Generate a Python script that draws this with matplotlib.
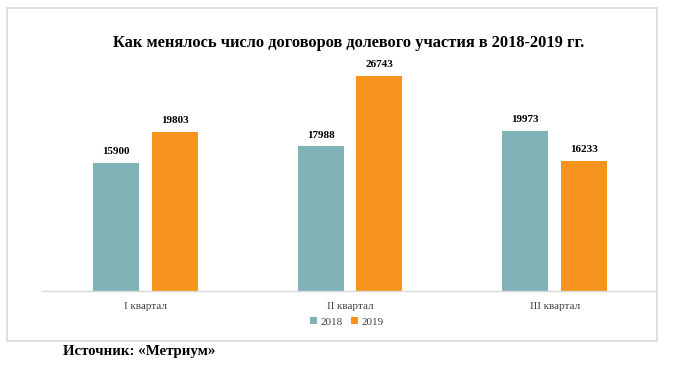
import matplotlib
matplotlib.use("Agg")
import matplotlib.pyplot as plt
import numpy as np
from matplotlib.patches import Rectangle

categories = ["I квартал", "II квартал", "III квартал"]
series_names = ["2018", "2019"]
values_2018 = [15900, 17988, 19973]
values_2019 = [19803, 26743, 16233]
colors = ["#7FB3B8", "#F7941D"]

plt.rcParams['font.family'] = ['Liberation Serif', 'DejaVu Serif']

W, H = 692, 365
fig = plt.figure(figsize=(W/100, H/100), dpi=100)

# outer frame
fig.patches.append(Rectangle((7/W, 1-341/H), (657-7)/W, (341-8)/H,
                             transform=fig.transFigure, fill=False,
                             edgecolor="#D9D9D9", linewidth=1.2))

ax = fig.add_axes([43/W, 1-291/H, (657-43)/W, (291-50)/H])
x = np.arange(len(categories))
bw = 0.225
off = 0.144
b1 = ax.bar(x - off, values_2018, bw, color=colors[0], label=series_names[0])
b2 = ax.bar(x + off, values_2019, bw, color=colors[1], label=series_names[1])
for bars, vals in ((b1, values_2018), (b2, values_2019)):
    for rect, v in zip(bars, vals):
        ax.annotate(f"{v}", (rect.get_x() + rect.get_width()/2, v),
                    xytext=(0, 5), textcoords="offset points",
                    ha="center", va="bottom", fontsize=8, fontweight="bold")
ax.set_xlim(-0.5, 2.5)
ax.set_ylim(0, 30000)
ax.set_xticks(x)
ax.set_xticklabels(categories, fontsize=8, color="#404040")
ax.tick_params(axis="x", length=0, pad=8)
ax.set_yticks([])
for s in ("top", "right", "left"):
    ax.spines[s].set_visible(False)
ax.spines["bottom"].set_color("#D9D9D9")
ax.spines["bottom"].set_linewidth(1.0)

fig.text(349/W, 1-43/H, "Как менялось число договоров долевого участия в 2018-2019 гг.",
         ha="center", va="center", fontsize=11.8, fontweight="bold")

leg = fig.legend(handles=[b1, b2], labels=series_names, loc="center",
                 bbox_to_anchor=(347/W, 1-322/H), ncol=2, frameon=False,
                 fontsize=8, handlelength=0.6, handleheight=0.6,
                 handletextpad=0.3, columnspacing=0.8)
for t in leg.get_texts():
    t.set_color("#404040")

fig.text(63/W, 1-351/H, "Источник: «Метриум»", ha="left", va="center",
         fontsize=10.7, fontweight="bold")

fig.savefig("out.png", dpi=100)
